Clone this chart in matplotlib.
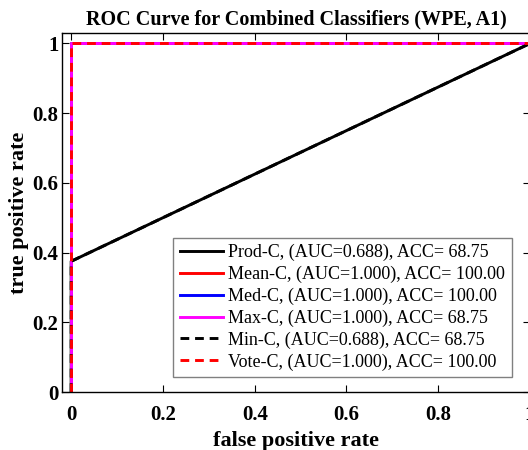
import matplotlib
matplotlib.use("Agg")
import matplotlib.pyplot as plt

plt.rcParams['font.family'] = ['Liberation Serif', 'DejaVu Serif']

# ROC points for each combined classifier
labels = ["Prod-C, (AUC=0.688), ACC= 68.75",
          "Mean-C, (AUC=1.000), ACC= 100.00",
          "Med-C, (AUC=1.000), ACC= 100.00",
          "Max-C, (AUC=1.000), ACC= 68.75",
          "Min-C, (AUC=0.688), ACC= 68.75",
          "Vote-C, (AUC=1.000), ACC= 100.00"]
fpr = [[0, 0, 1], [0, 0, 1], [0, 0, 1], [0, 0, 1], [0, 0, 1], [0, 0, 1]]
tpr = [[0, 0.375, 1], [0, 1, 1], [0, 1, 1], [0, 1, 1], [0, 0.375, 1], [0, 1, 1]]
colors = ["black", "red", "blue", "magenta", "black", "red"]
styles = ["-", "-", "-", "-", "--", "--"]

fig = plt.figure(figsize=(5.28, 4.5), dpi=100)
ax = fig.add_axes([62 / 528, 1 - 392 / 450, 468 / 528, 359 / 450])

for x, y, c, ls, lab in zip(fpr, tpr, colors, styles, labels):
    line, = ax.plot(x, y, color=c, linestyle=ls, linewidth=2.1, label=lab)
    if ls == "--":
        line.set_dashes((3, 2))

ax.set_xlim(-0.02, 1)
ax.set_ylim(0, 1.03)
ax.set_xticks([0, 0.2, 0.4, 0.6, 0.8, 1])
ax.set_xticklabels(["0", "0.2", "0.4", "0.6", "0.8", "1"])
ax.set_yticks([0, 0.2, 0.4, 0.6, 0.8, 1])
ax.set_yticklabels(["0", "0.2", "0.4", "0.6", "0.8", "1"])
ax.tick_params(direction='in', top=True, right=True, labelsize=15, length=5)
ax.tick_params(axis='x', pad=9)
ax.tick_params(axis='y', pad=2.5)
for t in ax.get_xticklabels() + ax.get_yticklabels():
    t.set_fontweight('bold')
for s in ax.spines.values():
    s.set_linewidth(1)

ax.set_xlabel("false positive rate", fontsize=16, fontweight='bold', labelpad=4.5)
ax.set_ylabel("true positive rate", fontsize=16, fontweight='bold', labelpad=2.5)
ax.set_title("ROC Curve for Combined Classifiers (WPE, A1)", fontsize=14.5, fontweight='bold', pad=6)

leg = ax.legend(loc='lower right', bbox_to_anchor=(0.98, 0.017), fontsize=13, handlelength=2.4,
                handletextpad=0.3, fancybox=False, edgecolor='gray', framealpha=1,
                borderpad=0.35, labelspacing=0.25)
leg.get_frame().set_linewidth(1)

fig.savefig("out.png", dpi=100)
